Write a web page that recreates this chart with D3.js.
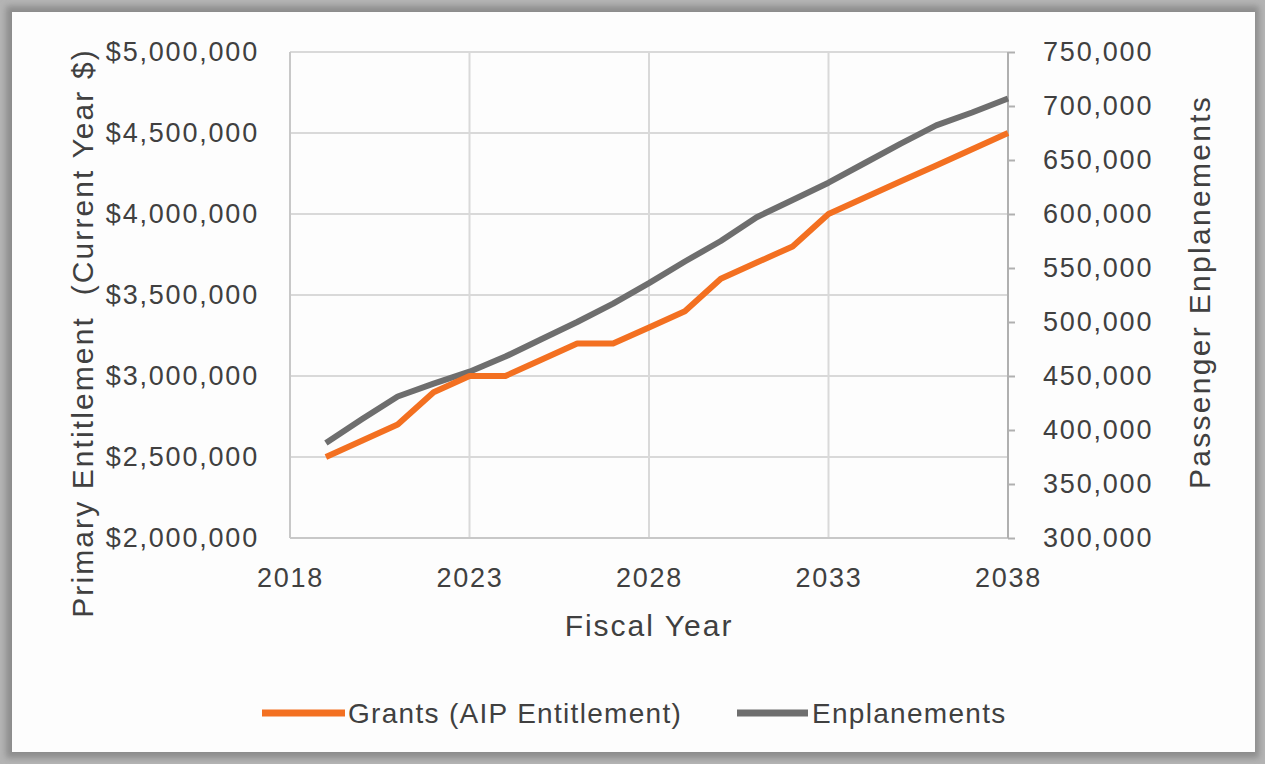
<!DOCTYPE html>
<html><head><meta charset="utf-8">
<script src="https://cdn.jsdelivr.net/npm/d3@7"></script>
<style>
body{margin:0;background:#fff}
svg{display:block}
text{font-family:"Liberation Sans",Arial,sans-serif;fill:#404040}
</style>
</head><body>
<svg id="c" width="1265" height="764"></svg>
<script>
const years = [2019,2020,2021,2022,2023,2024,2025,2026,2027,2028,2029,2030,2031,2032,2033,2034,2035,2036,2037,2038];
const grants = [2500000,2600000,2700000,2900000,3000000,3000000,3100000,3200000,3200000,3300000,3400000,3600000,3700000,3800000,4000000,4100000,4200000,4300000,4400000,4500000];
const enplanements = [388000,410000,431000,443000,454000,468000,484000,500000,517000,536000,556000,575000,597000,613000,629000,647000,665000,682000,694000,707000];
const xTicks = [2018,2023,2028,2033,2038];
const leftTicks = [2000000,2500000,3000000,3500000,4000000,4500000,5000000];
const rightTicks = [300000,350000,400000,450000,500000,550000,600000,650000,700000,750000];
const seriesNames = ["Grants (AIP Entitlement)","Enplanements"];
const colors = ["#F37021","#6E6E6E"];

const svg = d3.select("#c");
const W = 1265, H = 764;
const L = 290, R = 1008, T = 52, B = 538;

// frame
const defs = svg.append("defs");
const f = defs.append("filter").attr("id","sh").attr("x","-5%").attr("y","-5%").attr("width","110%").attr("height","110%");
f.append("feGaussianBlur").attr("stdDeviation",3);
svg.append("rect").attr("width",W).attr("height",H).attr("fill","#b4b4b4");
svg.append("rect").attr("x",6).attr("y",6).attr("width",W-12).attr("height",H-12).attr("fill","#8c8c8c").attr("filter","url(#sh)");
svg.append("rect").attr("x",12).attr("y",12).attr("width",1243).attr("height",740).attr("fill","#fdfdfd");

const x = d3.scaleLinear().domain([2018,2038]).range([L,R]);
const yL = d3.scaleLinear().domain([2000000,5000000]).range([B,T]);
const yR = d3.scaleLinear().domain([300000,750000]).range([B,T]);

// gridlines
svg.append("g").selectAll("line").data(leftTicks).join("line")
  .attr("x1",L).attr("x2",R).attr("y1",d=>yL(d)).attr("y2",d=>yL(d))
  .attr("stroke","#d9d9d9").attr("stroke-width",2);
svg.append("g").selectAll("line").data(xTicks.slice(1,-1)).join("line")
  .attr("x1",d=>x(d)).attr("x2",d=>x(d)).attr("y1",T).attr("y2",B)
  .attr("stroke","#d9d9d9").attr("stroke-width",2);

// axis lines
svg.append("line").attr("x1",L).attr("x2",L).attr("y1",T).attr("y2",B).attr("stroke","#c8c8c8").attr("stroke-width",2);
svg.append("line").attr("x1",L).attr("x2",R).attr("y1",B).attr("y2",B).attr("stroke","#c8c8c8").attr("stroke-width",2);
svg.append("line").attr("x1",R).attr("x2",R).attr("y1",T).attr("y2",B).attr("stroke","#b0b0b0").attr("stroke-width",2);

const tickFont = g => g.selectAll("text").attr("font-size",27).attr("letter-spacing","1.8px").attr("fill","#404040");

// left axis
const gL = svg.append("g").attr("transform",`translate(${L},0)`)
  .call(d3.axisLeft(yL).tickValues(leftTicks).tickSize(0).tickPadding(31)
    .tickFormat(d=>"$"+d3.format(",")(d)));
gL.select(".domain").remove();
gL.call(tickFont);

// right axis
const gR = svg.append("g").attr("transform",`translate(${R},0)`)
  .call(d3.axisRight(yR).tickValues(rightTicks).tickSize(7).tickPadding(28)
    .tickFormat(d3.format(",")));
gR.select(".domain").remove();
gR.selectAll("line").attr("stroke","#b0b0b0").attr("stroke-width",2);
gR.call(tickFont);

// bottom axis
const gB = svg.append("g").attr("transform",`translate(0,${B})`)
  .call(d3.axisBottom(x).tickValues(xTicks).tickSize(0).tickPadding(30).tickFormat(d3.format("d")));
gB.select(".domain").remove();
gB.call(tickFont);

// lines
const lineG = d3.line().x((d,i)=>x(years[i])).y(d=>yL(d));
const lineE = d3.line().x((d,i)=>x(years[i])).y(d=>yR(d));
svg.append("path").datum(enplanements).attr("d",lineE).attr("fill","none")
  .attr("stroke",colors[1]).attr("stroke-width",6).attr("stroke-linejoin","round");
svg.append("path").datum(grants).attr("d",lineG).attr("fill","none")
  .attr("stroke",colors[0]).attr("stroke-width",6).attr("stroke-linejoin","round");

// axis titles
svg.append("text").attr("transform","translate(93,333) rotate(-90)")
  .attr("text-anchor","middle").attr("font-size",30).attr("letter-spacing","2.1px")
  .attr("xml:space","preserve").text("Primary Entitlement  (Current Year $)");
svg.append("text").attr("transform","translate(1210,292) rotate(-90)")
  .attr("text-anchor","middle").attr("font-size",30).attr("letter-spacing","2.3px")
  .text("Passenger Enplanements");
svg.append("text").attr("x",649).attr("y",636).attr("text-anchor","middle")
  .attr("font-size",30).attr("letter-spacing","2px").text("Fiscal Year");

// legend
const legX = [262,737];
const lg = svg.append("g").selectAll("g").data(seriesNames).join("g")
  .attr("transform",(d,i)=>`translate(${legX[i]},713)`);
lg.append("line").attr("x1",0).attr("x2",(d,i)=>i===0?83:71).attr("y1",0).attr("y2",0)
  .attr("stroke",(d,i)=>colors[i]).attr("stroke-width",7);
lg.append("text").attr("x",(d,i)=>i===0?86:75).attr("y",10)
  .attr("font-size",28).attr("letter-spacing","1.3px").text(d=>d);
</script>
</body></html>
